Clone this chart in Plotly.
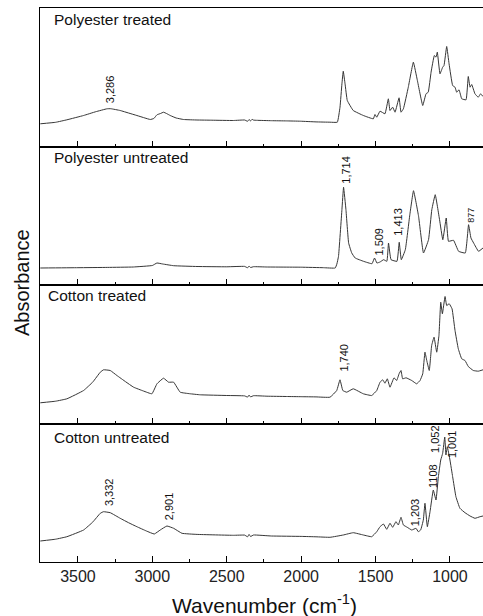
import plotly.graph_objects as go
from plotly.subplots import make_subplots

# ---- data (wavenumber cm-1, relative absorbance) ----
pt_wn = [3753, 3650, 3574, 3462, 3380, 3305, 3280, 3216, 3160, 3104, 3050, 3014, 2990, 2969, 2945, 2925, 2905, 2880, 2840, 2790, 2700, 2600, 2455, 2380, 2360, 2350, 2340, 2330, 2320, 2300, 2200, 2100, 2006, 1900, 1806,
         1757, 1739, 1726, 1717, 1705, 1690, 1650, 1582, 1515, 1504, 1492, 1470, 1437, 1414, 1403, 1385, 1369, 1342, 1329, 1313, 1280,
         1246, 1219, 1183, 1161, 1146, 1127, 1105, 1094, 1085, 1067, 1049, 1040, 1022, 1006, 982, 966, 955, 939, 921, 892, 877, 865, 854, 832, 810, 794, 778]
pt_ab = [22.7, 24.2, 26.7, 31.0, 34.8, 37.7, 37.8, 36.0, 33.5, 31.0, 28.5, 27.0, 28.0, 31.7, 33.0, 34.3, 33.0, 31.0, 28.5, 27.0, 26.5, 26.3, 26.0, 26.5, 25.2, 27.0, 25.6, 27.2, 26.4, 26.2, 25.8, 25.6, 25.3, 24.6, 24.3,
         24.3, 39.3, 62.7, 75.3, 62.7, 46.0, 36.0, 31.0, 27.7, 32.0, 29.3, 35.3, 32.7, 47.7, 36.0, 39.3, 34.3, 48.7, 34.3, 37.7, 59.3,
         84.3, 66.0, 41.0, 52.7, 54.3, 74.3, 91.0, 89.3, 94.3, 72.7, 79.3, 81.0, 100.0, 82.7, 61.0, 59.3, 54.3, 56.7, 47.7, 46.7, 70.0, 59.3, 62.0, 52.7, 49.3, 52.7, 50.0]

pu_wn = [3753, 3500, 3300, 3128, 3000, 2969, 2930, 2857, 2700, 2500, 2380, 2360, 2350, 2340, 2320, 2230, 2000, 1850, 1771, 1760, 1749, 1726, 1715, 1699, 1681, 1660, 1637, 1581, 1524, 1507, 1491, 1470, 1446, 1424, 1413, 1396,
         1356, 1341, 1327, 1300, 1270, 1245, 1211, 1178, 1144, 1122, 1099, 1070, 1048, 1025, 1010, 976, 942, 897, 875, 859, 841, 808, 778]
pu_ab = [17.0, 17.3, 17.6, 18.0, 19.5, 22.0, 21.0, 19.3, 18.5, 18.2, 18.6, 17.2, 19.0, 17.5, 18.3, 18.0, 17.8, 17.3, 17.0, 21.0, 28.7, 75.3, 97.7, 75.3, 42.0, 32.0, 27.0, 23.7, 21.3, 27.0, 22.0, 23.0, 25.3, 23.7, 42.0, 25.3,
         23.7, 42.7, 25.3, 35.3, 70.0, 94.3, 68.7, 32.0, 45.3, 75.3, 90.3, 65.3, 45.3, 67.0, 43.7, 44.7, 33.7, 32.0, 60.3, 47.0, 42.0, 33.7, 37.0]

ct_wn = [3753, 3650, 3574, 3462, 3400, 3350, 3328, 3283, 3238, 3180, 3126, 3060, 3003, 2969, 2925, 2891, 2857, 2813, 2750, 2678, 2500, 2380, 2360, 2350, 2340, 2320, 2230, 2100, 2000, 1900, 1806,
         1761, 1739, 1720, 1694, 1650, 1582, 1526, 1492, 1470, 1452, 1437, 1421, 1403, 1376, 1358, 1342, 1329, 1318, 1295, 1257, 1224, 1201, 1183, 1168, 1156, 1139, 1123, 1107, 1089, 1074,
         1062, 1051, 1033, 1022, 1005, 986, 966, 944, 921, 899, 877, 843, 810, 778]
ct_ab = [20.7, 22.3, 24.7, 33.0, 41.5, 51.3, 53.7, 53.0, 48.0, 41.8, 36.3, 32.5, 29.7, 39.7, 45.3, 41.3, 41.3, 31.3, 29.8, 28.7, 28.0, 27.6, 26.4, 28.4, 26.6, 27.8, 27.3, 27.0, 26.8, 26.6, 26.3,
         33.0, 43.7, 33.0, 31.3, 34.7, 29.7, 28.0, 33.0, 41.3, 43.7, 40.3, 44.7, 36.3, 45.7, 43.0, 49.7, 53.0, 44.7, 45.7, 43.0, 39.7, 43.0, 49.7, 71.3, 63.0, 53.0, 78.0, 86.3, 71.3, 88.0,
         121.3, 109.7, 127.0, 118.0, 119.7, 114.7, 93.0, 74.7, 64.7, 63.0, 57.0, 53.0, 52.3, 53.7]

cu_wn = [3753, 3650, 3574, 3462, 3400, 3350, 3328, 3283, 3216, 3160, 3104, 3040, 2987, 2947, 2902, 2857, 2801, 2700, 2455, 2380, 2360, 2350, 2340, 2320, 2200, 2000, 1900, 1806, 1717, 1650, 1582, 1526,
         1492, 1470, 1447, 1425, 1403, 1385, 1363, 1347, 1329, 1313, 1287, 1257, 1228, 1213, 1197, 1179, 1168, 1152, 1134, 1112, 1094, 1078, 1062, 1049, 1035, 1027, 1018, 1000, 982, 960, 933, 899, 865, 832, 798, 778]
cu_ab = [21.0, 22.8, 25.3, 32.0, 40.0, 48.7, 50.3, 49.3, 43.7, 39.3, 35.3, 31.0, 28.0, 32.0, 36.0, 33.7, 28.7, 27.6, 26.7, 26.9, 25.2, 27.6, 25.5, 27.0, 26.0, 25.6, 25.2, 24.7, 27.0, 29.3, 27.0, 25.3,
         30.3, 35.3, 38.0, 32.7, 38.7, 34.7, 40.3, 37.0, 44.7, 37.0, 34.7, 32.0, 33.7, 30.3, 32.0, 42.0, 58.7, 35.3, 50.3, 72.0, 62.0, 85.3, 102.0, 108.7, 125.0, 107.0, 115.3, 102.0, 85.3, 65.3, 53.7, 49.3, 46.0, 43.7, 45.3, 46.0]

panel_names = ["Polyester treated", "Polyester untreated", "Cotton treated", "Cotton untreated"]
series = [(pt_wn, pt_ab), (pu_wn, pu_ab), (ct_wn, ct_ab), (cu_wn, cu_ab)]

# peak labels: (panel index, text, wavenumber position, height position)
peak_labels = [
    (0, "3,286", 3283, 57.5),
    (1, "1,714", 1704, 115.5), (1, "1,509", 1480, 43.0), (1, "1,413", 1346, 63.7), (1, "877", 864, 69.5),
    (2, "1,740", 1715, 65.5),
    (3, "3,332", 3294, 69.5), (3, "2,901", 2891, 55.3), (3, "1,203", 1233, 50.0),
    (3, "1108", 1114, 86.0), (3, "1,052", 1101, 123.0), (3, "1,001", 986, 118.0),
]

x_range = [3755, 778]
y_range = [0, 138.5]
FONT = "Liberation Sans, Arial, sans-serif"

fig = make_subplots(rows=4, cols=1, shared_xaxes=True, vertical_spacing=0)

for i, (wn, ab) in enumerate(series):
    fig.add_trace(go.Scatter(x=wn, y=ab, mode="lines",
                             line=dict(color="#363636", width=1, shape="spline", smoothing=0.3),
                             showlegend=False, hoverinfo="skip"), row=i + 1, col=1)
    fig.update_xaxes(row=i + 1, col=1, range=x_range, showline=True, linecolor="black", linewidth=1,
                     mirror=True, ticks="inside", ticklen=6, tickwidth=1, tickcolor="black",
                     dtick=500, tick0=0, showgrid=False, zeroline=False,
                     minor=dict(ticks="inside", ticklen=3, dtick=250, tick0=0, tickcolor="black", showgrid=False),
                     showticklabels=(i == 3),
                     tickfont=dict(family=FONT, size=16, color="#222"))
    fig.update_yaxes(row=i + 1, col=1, range=y_range, showline=True, linecolor="black", linewidth=1,
                     showticklabels=False, ticks="", showgrid=False, zeroline=False)

L, R, T, B = 40, 0, 8, 54
W, H = 483, 616
pw, ph = W - L - R, H - T - B

def px(xp):
    return (xp - L) / pw

def py(yp):
    return (H - B - yp) / ph

annotations = []
label_pos = [(52, 19.5), (52, 158), (46, 295), (52, 437)]
for name, (lx, ly) in zip(panel_names, label_pos):
    annotations.append(dict(text=name, x=px(lx), y=py(ly), xref="paper", yref="paper",
                            xanchor="left", yanchor="middle", showarrow=False,
                            font=dict(family=FONT, size=15.5, color="#111")))

for (p, txt, xw, yh) in peak_labels:
    suffix = "" if p == 0 else str(p + 1)
    annotations.append(dict(text=txt, x=xw, y=yh, xref="x" + suffix, yref="y" + suffix,
                            textangle=-90, xanchor="center", yanchor="middle", showarrow=False,
                            font=dict(family=FONT, size=9 if txt == "877" else 11, color="#111")))

annotations.append(dict(text="Absorbance", x=px(22), y=py(283), xref="paper", yref="paper",
                        textangle=-90, xanchor="center", yanchor="middle", showarrow=False,
                        font=dict(family=FONT, size=20, color="#111")))
annotations.append(dict(text="Wavenumber (cm<sup>-1</sup>)", x=px(264), y=py(604), xref="paper", yref="paper",
                        xanchor="center", yanchor="middle", showarrow=False,
                        font=dict(family=FONT, size=21, color="#111")))

fig.update_layout(width=W, height=H, margin=dict(l=L, r=R, t=T, b=B),
                  plot_bgcolor="white", paper_bgcolor="white", annotations=annotations)

fig.write_html("out.html")
